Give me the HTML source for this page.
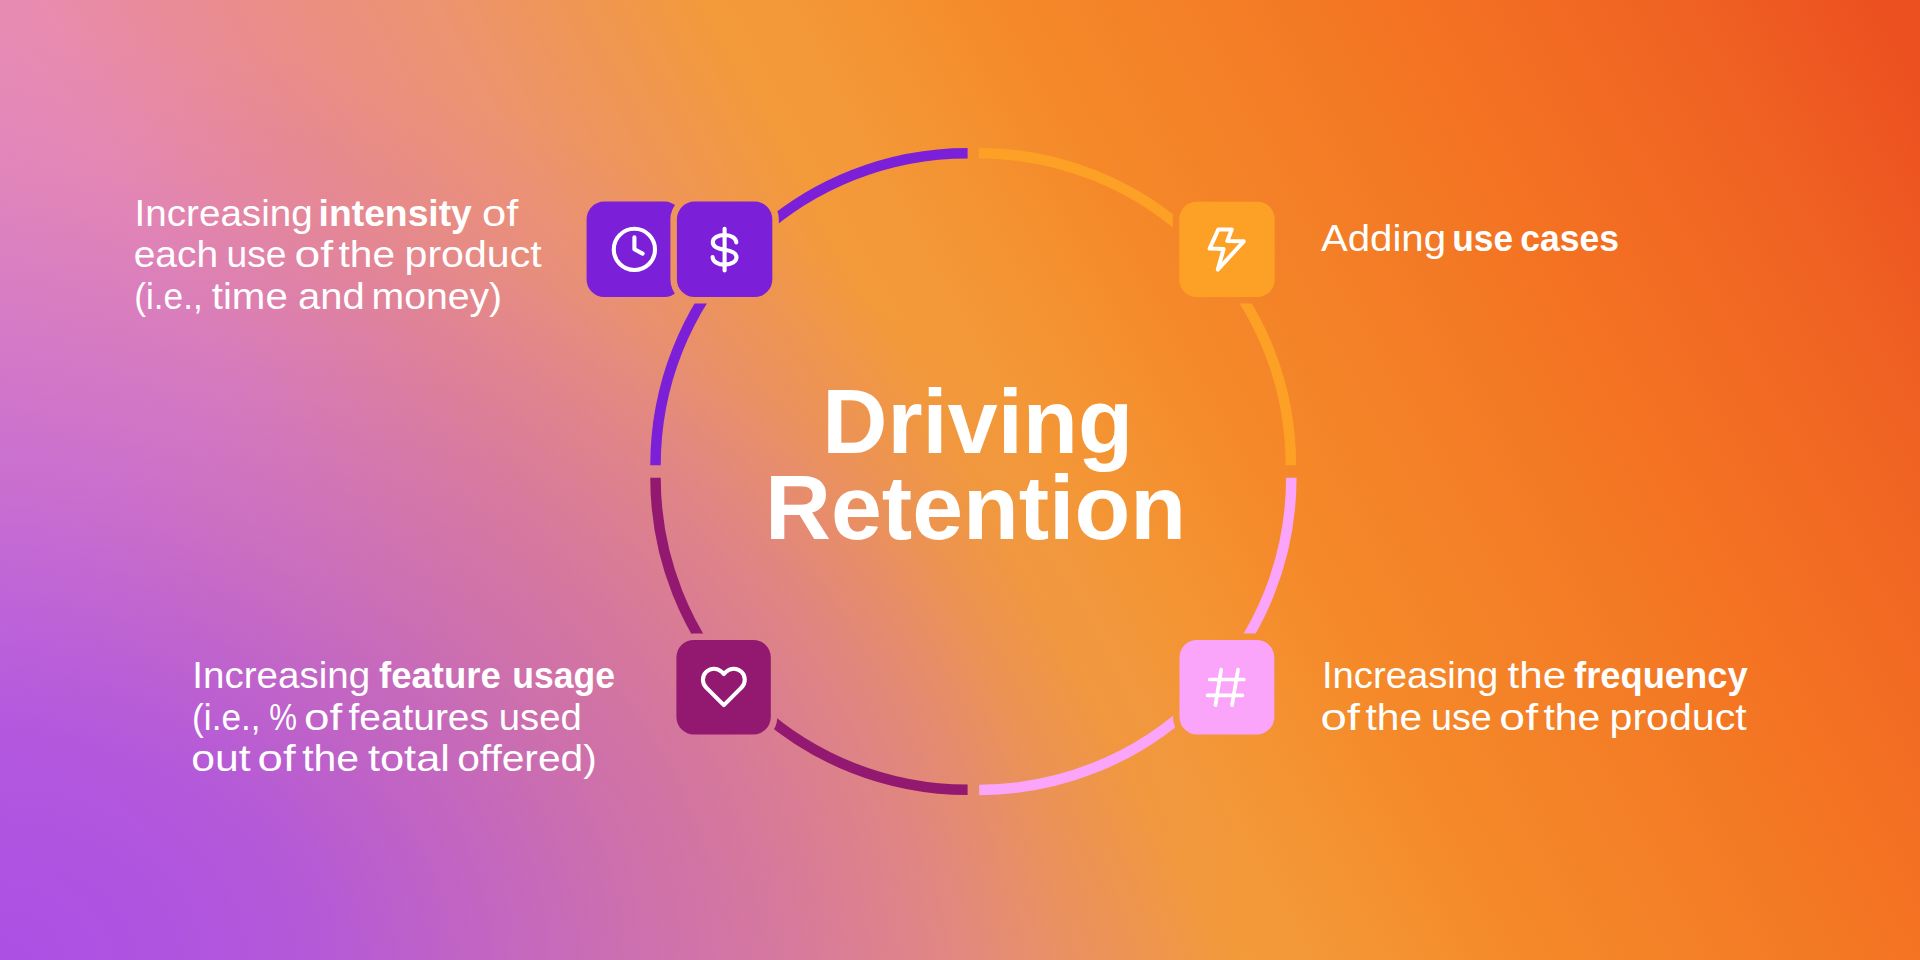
<!DOCTYPE html>
<html><head><meta charset="utf-8"><title>Driving Retention</title>
<style>
html,body{margin:0;padding:0;}
body{width:1920px;height:960px;overflow:hidden;position:relative;font-family:"Liberation Sans",sans-serif;
background:
radial-gradient(ellipse 1250px 930px at 0% 100%, rgba(171,80,227,1) 0%, rgba(171,80,227,.95) 10%, rgba(171,80,227,.84) 25%, rgba(170,79,224,.46) 50%, rgba(169,79,220,.23) 70%, rgba(169,79,220,.07) 85%, rgba(169,79,220,0) 100%),
radial-gradient(ellipse 520px 480px at 500px 800px, rgba(235,138,112,.66) 0%, rgba(235,138,112,.56) 35%, rgba(235,138,112,.25) 70%, rgba(235,138,112,0) 100%),
linear-gradient(61.4deg,#dc84cd 0%,#e288c2 12%,#e88bb2 22.1%,#ea8c8c 31%,#ed9470 39.2%,#f0974f 46%,#f39a3a 50.5%,#f3993a 52.5%,#f49332 57%,#f58a2a 61.7%,#f37a25 74%,#f47322 78.6%,#f16823 86%,#ef6022 91%,#ec5020 98%);
}
svg{position:absolute;left:0;top:0;}
text{font-family:"Liberation Sans",sans-serif;fill:#fff;white-space:pre;}
</style></head><body>
<svg width="1920" height="960" viewBox="0 0 1920 960">
<defs>
<mask id="arcmask" maskUnits="userSpaceOnUse" x="0" y="0" width="1920" height="960">
<rect width="1920" height="960" fill="#fff"/>
<rect x="670.40" y="195.10" width="108.40" height="108.40" rx="24.00" fill="#000"/>
<rect x="1172.80" y="195.20" width="108.40" height="108.40" rx="24.00" fill="#000"/>
<rect x="669.90" y="633.40" width="107.40" height="107.60" rx="24.00" fill="#000"/>
<rect x="1173.00" y="633.40" width="107.80" height="107.60" rx="24.00" fill="#000"/>
<rect x="580.10" y="195.10" width="108.40" height="108.40" rx="24.00" fill="#000"/>
</mask>
<mask id="clockmask" maskUnits="userSpaceOnUse" x="0" y="0" width="1920" height="960">
<rect width="1920" height="960" fill="#fff"/>
<rect x="670.40" y="195.10" width="108.40" height="108.40" rx="24.00" fill="#000"/>
</mask>
</defs>
<g mask="url(#arcmask)">
<path d="M655.50 465.30 A312.1 312.1 0 0 1 967.60 153.20" stroke="#7c1fd9" stroke-width="10.5" fill="none"/>
<path d="M978.80 153.20 A312.1 312.1 0 0 1 1290.90 465.30" stroke="#fda126" stroke-width="10.5" fill="none"/>
<path d="M1291.30 477.80 A312.1 312.1 0 0 1 979.20 789.90" stroke="#fba5fa" stroke-width="10.5" fill="none"/>
<path d="M967.60 789.80 A312.1 312.1 0 0 1 655.50 477.70" stroke="#93186f" stroke-width="10.5" fill="none"/>
</g>
<g mask="url(#clockmask)"><rect x="586.60" y="201.60" width="95.40" height="95.40" rx="17.50" fill="#7c1fd9"/></g>
<rect x="676.90" y="201.60" width="95.40" height="95.40" rx="17.50" fill="#7c1fd9"/>
<rect x="1179.30" y="201.70" width="95.40" height="95.40" rx="17.50" fill="#fda126"/>
<rect x="676.40" y="639.90" width="94.40" height="94.60" rx="17.50" fill="#93186f"/>
<rect x="1179.50" y="639.90" width="94.80" height="94.60" rx="17.50" fill="#fba5fa"/>
<g fill="none" stroke="#fff" stroke-width="4.1" stroke-linecap="round" stroke-linejoin="round">
<!-- clock -->
<circle cx="634.4" cy="249.4" r="20.6"/>
<path d="M634.4 237.2V249.2L642.6 253.6"/>
<!-- dollar -->
<path d="M724.6 228.8V270.4"/>
<path transform="translate(724.6,249.8)" d="M11.7 -7.3C11.7 -11.5 7 -14.8 0 -14.8C-7 -14.8 -11.8 -11.7 -11.8 -7.5C-11.8 -3 -7 -1 0 0C7 1 11.9 3 11.9 7.5C11.9 11.7 7 14.8 0 14.8C-7 14.8 -12 11.5 -12 7.2"/>
<!-- bolt -->
<path d="M1218.4 229.4L1231.8 229.4L1227.3 240.9L1243.8 241.3L1217.8 269.6L1223.6 248.9L1209.6 248.6Z" stroke-width="4.0"/>
<!-- heart -->
<g transform="translate(699.85,662.7) scale(2)" stroke-width="2.05"><path d="M20.84 4.61a5.5 5.5 0 0 0-7.78 0L12 5.67l-1.06-1.06a5.5 5.5 0 0 0-7.78 7.78l1.06 1.06L12 21.23l7.78-7.78 1.06-1.06a5.5 5.5 0 0 0 0-7.78z"/></g>
<!-- hash -->
<path d="M1209.6 679.5H1243.8M1207.6 695.3H1242.4M1221.15 669.6L1215.45 705.1M1238.05 669.6L1232.05 705.1" stroke-width="3.7"/>
</g>
<text transform="translate(134.51,225.90) scale(1.0304,1)" font-size="37.5" font-weight="400">Increasing</text>
<text transform="translate(318.62,225.90) scale(0.9940,1)" font-size="37.5" font-weight="700">intensity</text>
<text transform="translate(481.98,225.90) scale(1.1621,1)" font-size="37.5" font-weight="400">of</text>
<text transform="translate(192.32,687.90) scale(1.0280,1)" font-size="37.5" font-weight="400">Increasing</text>
<text transform="translate(379.03,687.90) scale(0.9740,1)" font-size="37.5" font-weight="700">feature</text>
<text transform="translate(512.31,687.90) scale(0.9467,1)" font-size="37.5" font-weight="700">usage</text>
<text transform="translate(1320.90,251.10) scale(1.0719,1)" font-size="37.5" font-weight="400">Adding</text>
<text transform="translate(1452.21,251.10) scale(0.9426,1)" font-size="37.5" font-weight="700">use</text>
<text transform="translate(1520.30,251.10) scale(0.9475,1)" font-size="37.5" font-weight="700">cases</text>
<text transform="translate(1321.94,687.90) scale(1.0193,1)" font-size="37.5" font-weight="400">Increasing</text>
<text transform="translate(1507.62,687.90) scale(1.1250,1)" font-size="37.5" font-weight="400">the</text>
<text transform="translate(1574.03,687.90) scale(0.9691,1)" font-size="37.5" font-weight="700">frequency</text>
<text transform="translate(822.25,453.00) scale(0.9914,1)" font-size="91" font-weight="700">Driving</text>
<text transform="translate(764.98,538.60) scale(1.0037,1)" font-size="91" font-weight="700">Retention</text>
<text transform="translate(133.67,267.30) scale(1.0383,1)" font-size="37.5" font-weight="400">each</text>
<text transform="translate(226.51,267.30) scale(0.9930,1)" font-size="37.5" font-weight="400">use</text>
<text transform="translate(294.53,267.30) scale(1.2345,1)" font-size="37.5" font-weight="400">of</text>
<text transform="translate(338.52,267.30) scale(1.0840,1)" font-size="37.5" font-weight="400">the</text>
<text transform="translate(404.51,267.30) scale(1.0967,1)" font-size="37.5" font-weight="400">product</text>
<text transform="translate(134.32,308.90) scale(0.9382,1)" font-size="37.5" font-weight="400">(i.e.,</text>
<text transform="translate(211.73,308.90) scale(1.0735,1)" font-size="37.5" font-weight="400">time</text>
<text transform="translate(297.97,308.90) scale(1.0655,1)" font-size="37.5" font-weight="400">and</text>
<text transform="translate(371.57,308.90) scale(1.0442,1)" font-size="37.5" font-weight="400">money)</text>
<text transform="translate(192.12,729.50) scale(0.9382,1)" font-size="37.5" font-weight="400">(i.e.,</text>
<text transform="translate(269.27,729.50) scale(0.8323,1)" font-size="37.5" font-weight="400">%</text>
<text transform="translate(303.96,729.50) scale(1.2207,1)" font-size="37.5" font-weight="400">of</text>
<text transform="translate(348.56,729.50) scale(1.0353,1)" font-size="37.5" font-weight="400">features</text>
<text transform="translate(498.76,729.50) scale(1.0195,1)" font-size="37.5" font-weight="400">used</text>
<text transform="translate(191.22,771.00) scale(1.1380,1)" font-size="37.5" font-weight="400">out</text>
<text transform="translate(257.57,771.00) scale(1.2138,1)" font-size="37.5" font-weight="400">of</text>
<text transform="translate(302.21,771.00) scale(1.0920,1)" font-size="37.5" font-weight="400">the</text>
<text transform="translate(367.94,771.00) scale(1.1567,1)" font-size="37.5" font-weight="400">total</text>
<text transform="translate(457.23,771.00) scale(1.0855,1)" font-size="37.5" font-weight="400">offered)</text>
<text transform="translate(1320.47,729.60) scale(1.2655,1)" font-size="37.5" font-weight="400">of</text>
<text transform="translate(1365.51,729.60) scale(1.0860,1)" font-size="37.5" font-weight="400">the</text>
<text transform="translate(1430.99,729.60) scale(1.0053,1)" font-size="37.5" font-weight="400">use</text>
<text transform="translate(1499.32,729.60) scale(1.2379,1)" font-size="37.5" font-weight="400">of</text>
<text transform="translate(1543.51,729.60) scale(1.0900,1)" font-size="37.5" font-weight="400">the</text>
<text transform="translate(1609.51,729.60) scale(1.0967,1)" font-size="37.5" font-weight="400">product</text>
</svg>
</body></html>
